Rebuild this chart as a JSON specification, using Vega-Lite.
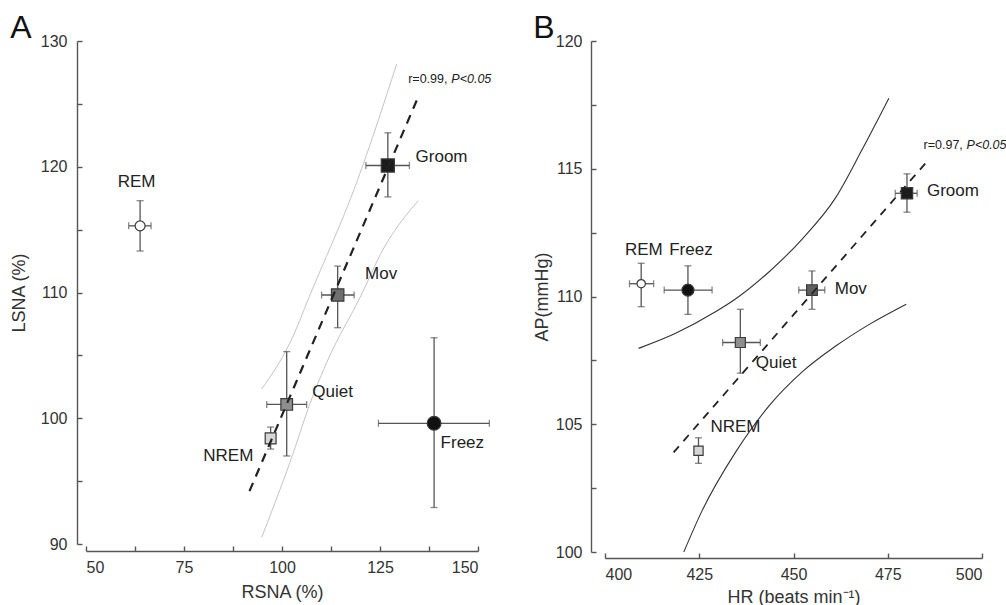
{
  "$schema": "https://vega.github.io/schema/vega-lite/v6.json",
  "padding": {"left": 10, "top": 12, "right": 0, "bottom": 0},
  "spacing": 41,
  "config": {
    "font": "Liberation Sans",
    "view": {"stroke": null},
    "axis": {"grid": false, "domain": true, "ticks": true, "domainColor": "#555", "domainWidth": 1.4, "tickColor": "#555", "tickWidth": 1.4, "tickSize": -5, "labelFont": "Liberation Sans", "labelFontSize": 16, "labelColor": "#333", "titleFont": "Liberation Sans", "titleFontSize": 18, "titleFontWeight": "normal", "titleColor": "#333"},
    "title": {"font": "Liberation Sans", "fontSize": 32, "fontWeight": "normal", "anchor": "start", "frame": "bounds", "color": "#111"}
  },
  "resolve": {"scale": {"x": "independent", "y": "independent", "fill": "independent", "shape": "independent", "size": "independent"}},
  "datasets": {
    "pointsA": [
      {"state": "REM", "x": 63.8, "xlo": 60.9, "xhi": 66.6, "y": 115.3, "ylo": 113.3, "yhi": 117.3},
      {"state": "NREM", "x": 97.1, "xlo": 96.4, "xhi": 97.8, "y": 98.4, "ylo": 97.55, "yhi": 99.3},
      {"state": "Quiet", "x": 101.2, "xlo": 96.1, "xhi": 106.3, "y": 101.1, "ylo": 97.0, "yhi": 105.3},
      {"state": "Mov", "x": 114.2, "xlo": 110.1, "xhi": 118.4, "y": 109.8, "ylo": 107.2, "yhi": 112.1},
      {"state": "Groom", "x": 127.0, "xlo": 121.4, "xhi": 132.5, "y": 120.1, "ylo": 117.6, "yhi": 122.7},
      {"state": "Freez", "x": 138.8, "xlo": 124.6, "xhi": 152.9, "y": 99.6, "ylo": 92.9, "yhi": 106.4}
    ],
    "pointsB": [
      {"state": "REM", "x": 409.6, "xlo": 406.5, "xhi": 412.9, "y": 110.5, "ylo": 109.6, "yhi": 111.3},
      {"state": "Freez", "x": 422.0, "xlo": 415.7, "xhi": 428.4, "y": 110.25, "ylo": 109.3, "yhi": 111.2},
      {"state": "NREM", "x": 424.8, "xlo": 424.3, "xhi": 425.3, "y": 103.96, "ylo": 103.47, "yhi": 104.47},
      {"state": "Quiet", "x": 435.9, "xlo": 431.2, "xhi": 441.2, "y": 108.2, "ylo": 107.0, "yhi": 109.5},
      {"state": "Mov", "x": 454.9, "xlo": 451.4, "xhi": 458.3, "y": 110.25, "ylo": 109.5, "yhi": 111.0},
      {"state": "Groom", "x": 480.1, "xlo": 477.0, "xhi": 482.8, "y": 114.04, "ylo": 113.3, "yhi": 114.8}
    ],
    "bandA": [
      {"side": "upper", "x": 94.82, "y": 102.33},
      {"side": "upper", "x": 102.88, "y": 106.56},
      {"side": "upper", "x": 106.71, "y": 109.48},
      {"side": "upper", "x": 119.06, "y": 118.76},
      {"side": "upper", "x": 129.26, "y": 128.17},
      {"side": "lower", "x": 94.82, "y": 90.53},
      {"side": "lower", "x": 102.04, "y": 96.5},
      {"side": "lower", "x": 107.58, "y": 101.53},
      {"side": "lower", "x": 111.81, "y": 104.71},
      {"side": "lower", "x": 119.9, "y": 109.6},
      {"side": "lower", "x": 125.84, "y": 113.46},
      {"side": "lower", "x": 134.77, "y": 117.3}
    ],
    "bandB": [
      {"side": "upper", "x": 408.9, "y": 107.97},
      {"side": "upper", "x": 418.6, "y": 108.55},
      {"side": "upper", "x": 429.3, "y": 109.4},
      {"side": "upper", "x": 434.6, "y": 109.9},
      {"side": "upper", "x": 443.4, "y": 110.95},
      {"side": "upper", "x": 452.3, "y": 112.25},
      {"side": "upper", "x": 461.1, "y": 113.85},
      {"side": "upper", "x": 468.2, "y": 115.75},
      {"side": "upper", "x": 475.3, "y": 117.76},
      {"side": "lower", "x": 420.9, "y": 100.0},
      {"side": "lower", "x": 425.7, "y": 101.6},
      {"side": "lower", "x": 434.6, "y": 103.9},
      {"side": "lower", "x": 443.4, "y": 105.7},
      {"side": "lower", "x": 452.3, "y": 107.05},
      {"side": "lower", "x": 461.1, "y": 108.05},
      {"side": "lower", "x": 470.0, "y": 108.9},
      {"side": "lower", "x": 479.9, "y": 109.7}
    ],
    "regA": [{"x": 91.7, "y": 94.2}, {"x": 134.4, "y": 125.3}],
    "regB": [{"x": 418.2, "y": 103.9}, {"x": 486.1, "y": 115.4}],
    "labelsA": [
      {"text": "REM", "x": 62.9, "y": 118.8},
      {"text": "Groom", "x": 140.7, "y": 120.75},
      {"text": "Mov", "x": 125.3, "y": 111.5},
      {"text": "Quiet", "x": 112.9, "y": 102.1},
      {"text": "NREM", "x": 86.3, "y": 97.0},
      {"text": "Freez", "x": 146.0, "y": 98.0}
    ],
    "labelsB": [
      {"text": "REM", "x": 410.3, "y": 111.82},
      {"text": "Freez", "x": 422.8, "y": 111.82},
      {"text": "Groom", "x": 492.3, "y": 114.13},
      {"text": "Mov", "x": 465.2, "y": 110.28},
      {"text": "Quiet", "x": 445.4, "y": 107.41},
      {"text": "NREM", "x": 434.6, "y": 104.9}
    ],
    "statA": [{"text": "r=0.99,", "x": 137.2, "y": 126.98}],
    "statPA": [{"text": "P<0.05", "x": 148.3, "y": 126.98}],
    "statB": [{"text": "r=0.97,", "x": 489.7, "y": 115.93}],
    "statPB": [{"text": "P<0.05", "x": 501.2, "y": 115.93}]
  },
  "hconcat": [
    {
      "title": {"text": "A", "offset": -12},
      "width": 392,
      "height": 503,
      "layer": [
        {
          "data": {"name": "bandA"},
          "mark": {"type": "line", "color": "#c4c4c4", "strokeWidth": 1, "interpolate": "monotone"},
          "encoding": {
            "x": {"field": "x", "type": "quantitative", "title": "RSNA (%)", "scale": {"domain": [50, 150], "nice": false, "zero": false},
                  "axis": {"values": [50, 62.5, 75, 87.5, 100, 112.5, 125, 137.5, 150], "labelExpr": "datum.value % 25 === 0 ? datum.label : ''", "offset": 7, "labelPadding": 13, "titlePadding": 8, "domain": true}},
            "y": {"field": "y", "type": "quantitative", "title": "LSNA (%)", "scale": {"domain": [90, 130], "nice": false, "zero": false},
                  "axis": {"values": [90, 95, 100, 105, 110, 115, 120, 125, 130], "labelExpr": "datum.value % 10 === 0 ? datum.label : ''", "offset": 9, "labelPadding": 15, "titlePadding": 12, "domain": true}},
            "detail": {"field": "side", "type": "nominal"}
          }
        },
        {
          "data": {"name": "pointsA"},
          "mark": {"type": "errorbar", "ticks": {"size": 7, "thickness": 1.3, "color": "#555"}, "rule": {"color": "#555", "strokeWidth": 1.3}},
          "encoding": {
            "x": {"field": "x", "type": "quantitative", "title": "RSNA (%)", "scale": {"domain": [50, 150], "nice": false, "zero": false}},
            "y": {"field": "ylo", "type": "quantitative", "title": "LSNA (%)", "scale": {"domain": [90, 130], "nice": false, "zero": false}},
            "y2": {"field": "yhi"}
          }
        },
        {
          "data": {"name": "pointsA"},
          "mark": {"type": "errorbar", "ticks": {"size": 7, "thickness": 1.3, "color": "#555"}, "rule": {"color": "#555", "strokeWidth": 1.3}},
          "encoding": {
            "y": {"field": "y", "type": "quantitative", "title": "LSNA (%)", "scale": {"domain": [90, 130], "nice": false, "zero": false}},
            "x": {"field": "xlo", "type": "quantitative", "title": "RSNA (%)", "scale": {"domain": [50, 150], "nice": false, "zero": false}},
            "x2": {"field": "xhi"}
          }
        },
        {
          "data": {"name": "pointsA"},
          "mark": {"type": "point", "filled": true, "stroke": "#3a3a3a", "strokeWidth": 1.2, "opacity": 1},
          "encoding": {
            "x": {"field": "x", "type": "quantitative", "title": "RSNA (%)", "scale": {"domain": [50, 150], "nice": false, "zero": false}},
            "y": {"field": "y", "type": "quantitative", "title": "LSNA (%)", "scale": {"domain": [90, 130], "nice": false, "zero": false}},
            "fill": {"field": "state", "type": "nominal", "legend": null, "scale": {"domain": ["REM", "NREM", "Quiet", "Mov", "Groom", "Freez"], "range": ["#ffffff", "#d6d6d6", "#8e8e8e", "#6f6f6f", "#1c1c1c", "#111111"]}},
            "shape": {"field": "state", "type": "nominal", "legend": null, "scale": {"domain": ["REM", "NREM", "Quiet", "Mov", "Groom", "Freez"], "range": ["circle", "square", "square", "square", "square", "circle"]}},
            "size": {"field": "state", "type": "nominal", "legend": null, "scale": {"domain": ["REM", "NREM", "Quiet", "Mov", "Groom", "Freez"], "range": [100, 190, 190, 190, 196, 130]}}
          }
        },
        {
          "data": {"name": "regA"},
          "mark": {"type": "line", "color": "#222", "strokeWidth": 2.2, "strokeDash": [9, 7]},
          "encoding": {
            "x": {"field": "x", "type": "quantitative", "title": "RSNA (%)", "scale": {"domain": [50, 150], "nice": false, "zero": false}},
            "y": {"field": "y", "type": "quantitative", "title": "LSNA (%)", "scale": {"domain": [90, 130], "nice": false, "zero": false}}
          }
        },
        {
          "data": {"name": "labelsA"},
          "mark": {"type": "text", "fontSize": 17, "color": "#222", "align": "center", "baseline": "middle"},
          "encoding": {
            "x": {"field": "x", "type": "quantitative", "title": "RSNA (%)", "scale": {"domain": [50, 150], "nice": false, "zero": false}},
            "y": {"field": "y", "type": "quantitative", "title": "LSNA (%)", "scale": {"domain": [90, 130], "nice": false, "zero": false}},
            "text": {"field": "text"}
          }
        },
        {
          "data": {"name": "statA"},
          "mark": {"type": "text", "fontSize": 12.5, "color": "#222", "align": "center", "baseline": "middle"},
          "encoding": {
            "x": {"field": "x", "type": "quantitative", "title": "RSNA (%)", "scale": {"domain": [50, 150], "nice": false, "zero": false}},
            "y": {"field": "y", "type": "quantitative", "title": "LSNA (%)", "scale": {"domain": [90, 130], "nice": false, "zero": false}},
            "text": {"field": "text"}
          }
        },
        {
          "data": {"name": "statPA"},
          "mark": {"type": "text", "fontSize": 12.5, "fontStyle": "italic", "color": "#222", "align": "center", "baseline": "middle"},
          "encoding": {
            "x": {"field": "x", "type": "quantitative", "title": "RSNA (%)", "scale": {"domain": [50, 150], "nice": false, "zero": false}},
            "y": {"field": "y", "type": "quantitative", "title": "LSNA (%)", "scale": {"domain": [90, 130], "nice": false, "zero": false}},
            "text": {"field": "text"}
          }
        }
      ]
    },
    {
      "title": {"text": "B", "offset": -12},
      "width": 377,
      "height": 511,
      "layer": [
        {
          "data": {"name": "bandB"},
          "mark": {"type": "line", "color": "#333", "strokeWidth": 1.1, "interpolate": "monotone"},
          "encoding": {
            "x": {"field": "x", "type": "quantitative", "title": "HR (beats min⁻¹)", "scale": {"domain": [400, 500], "nice": false, "zero": false},
                  "axis": {"values": [400, 425, 450, 475, 500], "offset": 6, "labelPadding": 13, "titlePadding": 6, "domain": true}},
            "y": {"field": "y", "type": "quantitative", "title": "AP(mmHg)", "scale": {"domain": [100, 120], "nice": false, "zero": false},
                  "axis": {"values": [100, 102.5, 105, 107.5, 110, 112.5, 115, 117.5, 120], "labelExpr": "datum.value % 5 === 0 ? datum.label : ''", "offset": 14, "labelPadding": 14, "titlePadding": 4, "domain": true}},
            "detail": {"field": "side", "type": "nominal"}
          }
        },
        {
          "data": {"name": "pointsB"},
          "mark": {"type": "errorbar", "ticks": {"size": 7, "thickness": 1.3, "color": "#555"}, "rule": {"color": "#555", "strokeWidth": 1.3}},
          "encoding": {
            "x": {"field": "x", "type": "quantitative", "title": "HR (beats min⁻¹)", "scale": {"domain": [400, 500], "nice": false, "zero": false}},
            "y": {"field": "ylo", "type": "quantitative", "title": "AP(mmHg)", "scale": {"domain": [100, 120], "nice": false, "zero": false}},
            "y2": {"field": "yhi"}
          }
        },
        {
          "data": {"name": "pointsB"},
          "mark": {"type": "errorbar", "ticks": {"size": 7, "thickness": 1.3, "color": "#555"}, "rule": {"color": "#555", "strokeWidth": 1.3}},
          "encoding": {
            "y": {"field": "y", "type": "quantitative", "title": "AP(mmHg)", "scale": {"domain": [100, 120], "nice": false, "zero": false}},
            "x": {"field": "xlo", "type": "quantitative", "title": "HR (beats min⁻¹)", "scale": {"domain": [400, 500], "nice": false, "zero": false}},
            "x2": {"field": "xhi"}
          }
        },
        {
          "data": {"name": "pointsB"},
          "mark": {"type": "point", "filled": true, "stroke": "#3a3a3a", "strokeWidth": 1.2, "opacity": 1},
          "encoding": {
            "x": {"field": "x", "type": "quantitative", "title": "HR (beats min⁻¹)", "scale": {"domain": [400, 500], "nice": false, "zero": false}},
            "y": {"field": "y", "type": "quantitative", "title": "AP(mmHg)", "scale": {"domain": [100, 120], "nice": false, "zero": false}},
            "fill": {"field": "state", "type": "nominal", "legend": null, "scale": {"domain": ["REM", "NREM", "Quiet", "Mov", "Groom", "Freez"], "range": ["#ffffff", "#d6d6d6", "#8e8e8e", "#5f5f5f", "#1c1c1c", "#111111"]}},
            "shape": {"field": "state", "type": "nominal", "legend": null, "scale": {"domain": ["REM", "NREM", "Quiet", "Mov", "Groom", "Freez"], "range": ["circle", "square", "square", "square", "square", "circle"]}},
            "size": {"field": "state", "type": "nominal", "legend": null, "scale": {"domain": ["REM", "NREM", "Quiet", "Mov", "Groom", "Freez"], "range": [70, 144, 135, 121, 160, 100]}}
          }
        },
        {
          "data": {"name": "regB"},
          "mark": {"type": "line", "color": "#222", "strokeWidth": 1.8, "strokeDash": [8, 7]},
          "encoding": {
            "x": {"field": "x", "type": "quantitative", "title": "HR (beats min⁻¹)", "scale": {"domain": [400, 500], "nice": false, "zero": false}},
            "y": {"field": "y", "type": "quantitative", "title": "AP(mmHg)", "scale": {"domain": [100, 120], "nice": false, "zero": false}}
          }
        },
        {
          "data": {"name": "labelsB"},
          "mark": {"type": "text", "fontSize": 17, "color": "#222", "align": "center", "baseline": "middle"},
          "encoding": {
            "x": {"field": "x", "type": "quantitative", "title": "HR (beats min⁻¹)", "scale": {"domain": [400, 500], "nice": false, "zero": false}},
            "y": {"field": "y", "type": "quantitative", "title": "AP(mmHg)", "scale": {"domain": [100, 120], "nice": false, "zero": false}},
            "text": {"field": "text"}
          }
        },
        {
          "data": {"name": "statB"},
          "mark": {"type": "text", "fontSize": 12.5, "color": "#222", "align": "center", "baseline": "middle"},
          "encoding": {
            "x": {"field": "x", "type": "quantitative", "title": "HR (beats min⁻¹)", "scale": {"domain": [400, 500], "nice": false, "zero": false}},
            "y": {"field": "y", "type": "quantitative", "title": "AP(mmHg)", "scale": {"domain": [100, 120], "nice": false, "zero": false}},
            "text": {"field": "text"}
          }
        },
        {
          "data": {"name": "statPB"},
          "mark": {"type": "text", "fontSize": 12.5, "fontStyle": "italic", "color": "#222", "align": "center", "baseline": "middle"},
          "encoding": {
            "x": {"field": "x", "type": "quantitative", "title": "HR (beats min⁻¹)", "scale": {"domain": [400, 500], "nice": false, "zero": false}},
            "y": {"field": "y", "type": "quantitative", "title": "AP(mmHg)", "scale": {"domain": [100, 120], "nice": false, "zero": false}},
            "text": {"field": "text"}
          }
        }
      ]
    }
  ]
}
